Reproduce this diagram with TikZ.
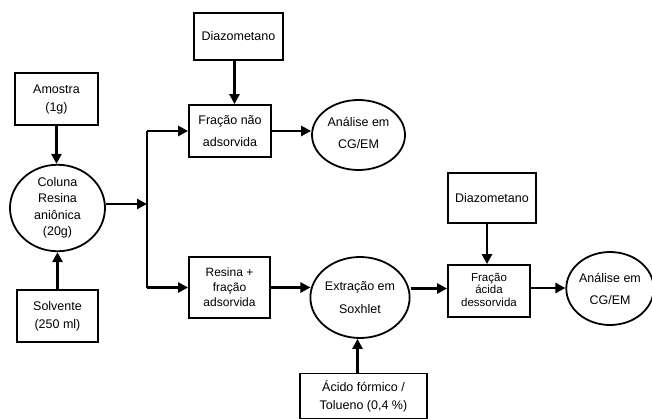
\documentclass[tikz,border=0pt]{standalone}
\usepackage{fontspec}
\setmainfont{Liberation Sans}
\usetikzlibrary{shapes.geometric,arrows.meta}
\begin{document}
\begin{tikzpicture}[x=1pt,y=-1pt,
  box/.style={draw,line width=1.8pt,rectangle,inner sep=0pt,align=center,font=\fontsize{12.5}{16}\selectfont},
  ell/.style={draw,line width=1.8pt,ellipse,inner sep=0pt,align=center,font=\fontsize{12.5}{16}\selectfont},
  conn/.style={line width=2.6pt,-{Triangle[length=10pt,width=10pt]}},
  plain/.style={line width=2.6pt}]
\useasboundingbox (0,0) rectangle (652,419);
\node[box,minimum width=83pt,minimum height=52pt,font=\fontsize{12.5}{18}\selectfont] (amostra) at (56.5,99) {Amostra\\(1g)};
\node[ell,minimum width=95pt,minimum height=80pt,font=\fontsize{12.5}{16.5}\selectfont] (coluna) at (57.5,208) {Coluna\\Resina\\aniônica\\(20g)};
\node[box,minimum width=81pt,minimum height=52pt,font=\fontsize{12.5}{18}\selectfont] (solvente) at (57.5,316) {Solvente\\(250 ml)};
\node[box,minimum width=89pt,minimum height=47pt] (diaz1) at (238.5,36.5) {Diazometano};
\node[box,minimum width=82pt,minimum height=52pt,font=\fontsize{12.5}{22}\selectfont] (fna) at (230,131) {Fração não\\adsorvida};
\node[ell,minimum width=93pt,minimum height=70pt,font=\fontsize{12.5}{22}\selectfont] (an1) at (358.5,135) {\raisebox{4pt}{Análise em}\\\raisebox{4pt}{CG/EM}};
\node[box,minimum width=81pt,minimum height=61pt,font=\fontsize{12}{15}\selectfont] (resina) at (229.5,287.5) {Resina +\\fração\\adsorvida};
\node[ell,minimum width=94pt,minimum height=81pt,font=\fontsize{12.5}{23}\selectfont] (extr) at (360,297.5) {Extração em\\Soxhlet};
\node[box,minimum width=127pt,minimum height=45pt,font=\fontsize{12.5}{18}\selectfont] (acido) at (363.5,396) {Ácido fórmico /\\Tolueno (0,4 \%)};
\node[box,minimum width=88pt,minimum height=50pt] (diaz2) at (492,198) {Diazometano};
\node[box,minimum width=82pt,minimum height=52pt,font=\fontsize{11.5}{10.5}\selectfont] (fad) at (489,291) {\raisebox{3pt}{Fração}\\\raisebox{3pt}{ácida}\\\raisebox{3pt}{dessorvida}};
\node[ell,minimum width=80pt,minimum height=73pt,font=\fontsize{12.5}{22}\selectfont] (an2) at (610,288.5) {Análise em\\CG/EM};
\coordinate (j) at (147,204);
\draw[conn] (amostra.south) -- (amostra.south |- coluna.north);
\draw[conn] (solvente.north) -- (solvente.north |- coluna.south);
\draw[conn] (coluna.east |- j) -- (j);
\draw[plain] (j |- fna.west) -- (j |- resina.west);
\draw[conn] (j |- fna.west) -- (fna.west);
\draw[conn] (j |- resina.west) -- (resina.west);
\draw[conn] ([xshift=-4pt]diaz1.south) -- ([xshift=-4pt]diaz1.south |- fna.north);
\draw[conn] (fna.east) -- (an1.west |- fna.east);
\draw[conn] (resina.east) -- ([xshift=1pt]resina.east -| extr.west);
\draw[conn] ([xshift=-6pt]acido.north) -- ([xshift=-6pt]acido.north |- extr.south);
\draw[conn] ([yshift=9pt]extr.east) -- ([yshift=9pt]extr.east -| fad.west);
\draw[conn] ([xshift=-5pt]diaz2.south) -- ([xshift=-5pt]diaz2.south |- fad.north);
\draw[conn] ([yshift=3pt]fad.east) -- ([yshift=3pt]fad.east -| an2.west);
\end{tikzpicture}
\end{document}
